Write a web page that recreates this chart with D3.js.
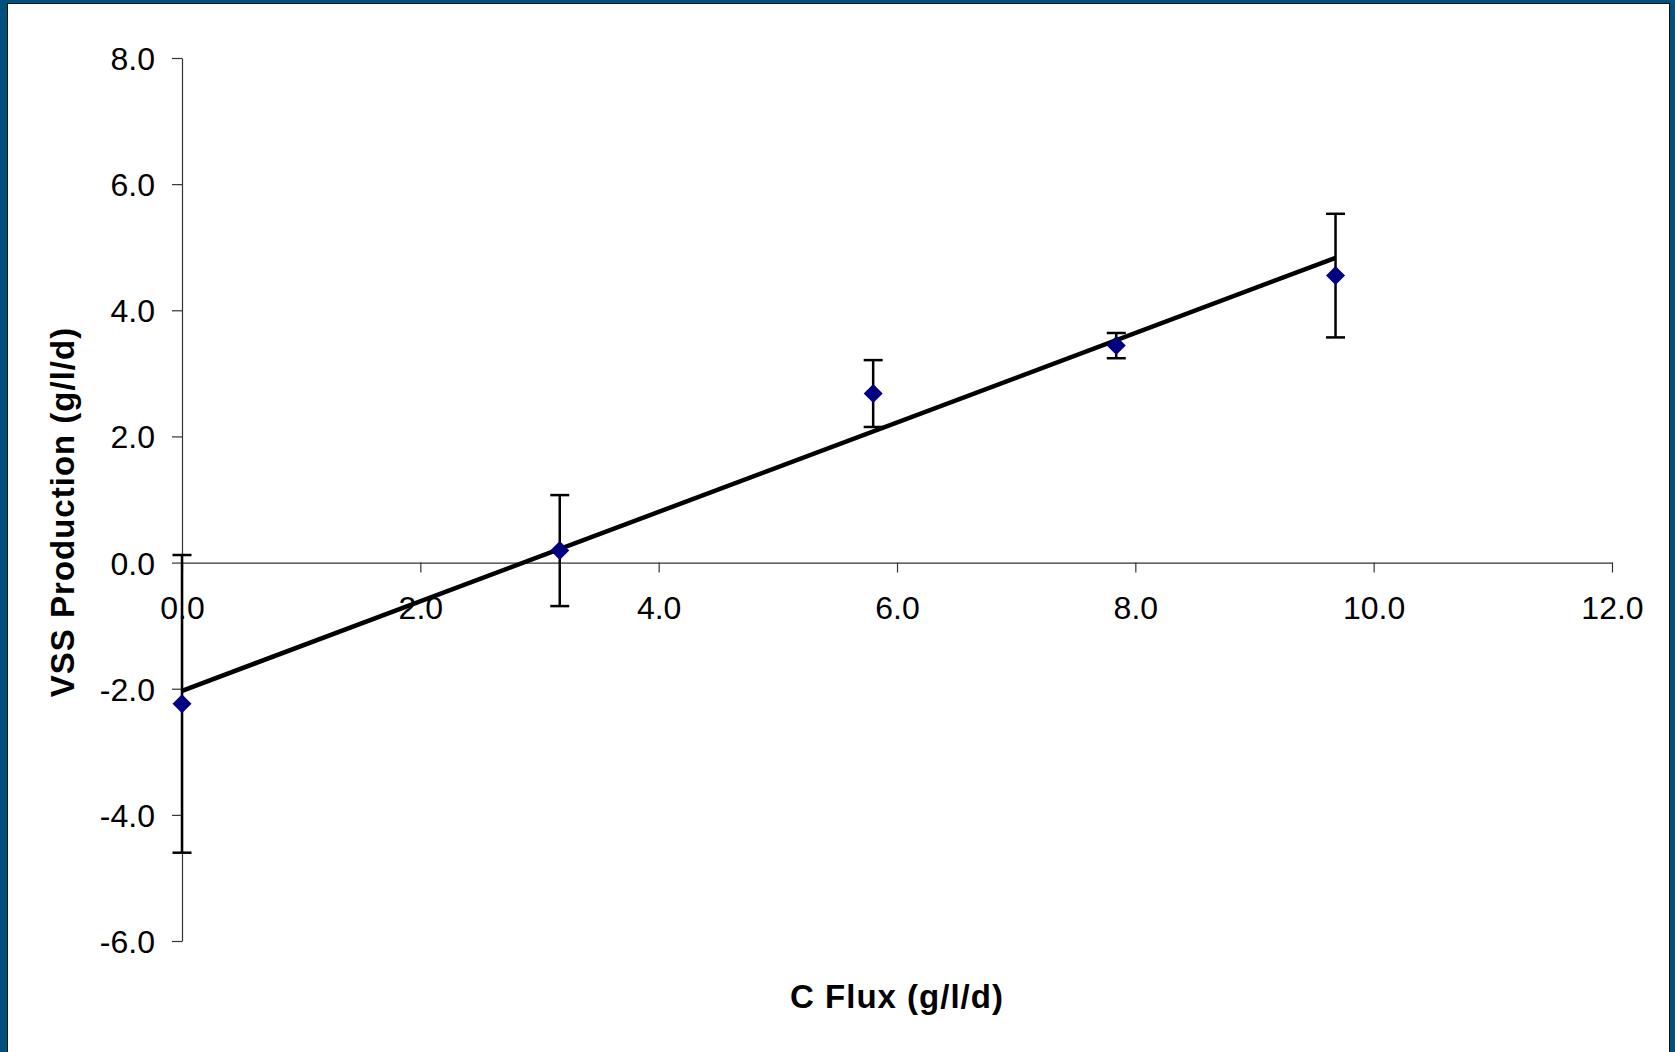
<!DOCTYPE html>
<html>
<head>
<meta charset="utf-8">
<script src="https://cdn.jsdelivr.net/npm/d3@7"></script>
<style>
    body { margin: 0; background: #02507e; }
    svg { display: block; }
    text { font-family: "Liberation Sans", Arial, sans-serif; fill: #000; }
</style>
</head>
<body>
<svg id="drawing_region"></svg>
<script>
// values
const cFlux   = [0.0, 3.17, 5.80, 7.84, 9.68];
const vssProd = [-2.24, 0.19, 2.68, 3.44, 4.55];
const vssErr  = [2.36, 0.88, 0.53, 0.20, 0.98];
const xTicks  = [0, 2, 4, 6, 8, 10, 12];
const yTicks  = [-6, -4, -2, 0, 2, 4, 6, 8];

const data = cFlux.map( (x, i) => ({ x: x, y: vssProd[i], err: vssErr[i] }) );

var config = {
    parent: '#drawing_region',
    width: 1675,
    height: 1052,
    margin: {top:58, right:63, bottom:111, left:182},
    xlabel: 'C Flux (g/l/d)',
    ylabel: 'VSS Production (g/l/d)'
};

const svg = d3.select( config.parent )
    .attr('width', config.width)
    .attr('height', config.height);

// frame
svg.append('rect')
    .attr('x', 0).attr('y', 0)
    .attr('width', config.width).attr('height', config.height)
    .attr('fill', '#02507e');
svg.append('rect')
    .attr('x', 7).attr('y', 3)
    .attr('width', 1663).attr('height', config.height)
    .attr('fill', '#111');
svg.append('rect')
    .attr('x', 8).attr('y', 4)
    .attr('width', 1661).attr('height', config.height)
    .attr('fill', '#fff');

const inner_width = config.width - config.margin.left - config.margin.right;
const inner_height = config.height - config.margin.top - config.margin.bottom;

const chart = svg.append('g')
    .attr('transform', `translate(${config.margin.left}, ${config.margin.top})`);

const xscale = d3.scaleLinear()
    .domain( [0, 12] )
    .range( [0, inner_width] );

const yscale = d3.scaleLinear()
    .domain( [-6, 8] )
    .range( [inner_height, 0] );

// plain hyphen for negatives, like the original
const fmt = v => v.toFixed(1);

// y axis
const yaxis_group = chart.append('g')
    .call( d3.axisLeft( yscale ).tickValues( yTicks ).tickFormat( fmt )
        .tickSize(10).tickSizeOuter(0).tickPadding(17) );

// x axis through zero
const xaxis_group = chart.append('g')
    .attr('transform', `translate(0, ${yscale(0)})`)
    .call( d3.axisBottom( xscale ).tickValues( xTicks ).tickFormat( fmt )
        .tickSize(10).tickSizeOuter(0) );

chart.selectAll('.domain, .tick line')
    .attr('stroke', '#333')
    .attr('stroke-width', 1.2);
chart.selectAll('.tick text')
    .style('font-size', '32px')
    .style('font-family', '"Liberation Sans", Arial, sans-serif')
    .attr('fill', '#000');
yaxis_group.selectAll('.tick text').attr('dy', '0.36em');
xaxis_group.selectAll('.tick text').attr('y', 56).attr('dy', 0);

// error bars
const cap = 9.5;
const bars = chart.selectAll('.err')
    .data( data )
    .enter()
    .append('g')
    .attr('class', 'err')
    .attr('stroke', '#000')
    .attr('stroke-width', 2.5);
bars.append('line')
    .attr('x1', d => xscale(d.x)).attr('x2', d => xscale(d.x))
    .attr('y1', d => yscale(d.y + d.err)).attr('y2', d => yscale(d.y - d.err));
bars.append('line')
    .attr('x1', d => xscale(d.x) - cap).attr('x2', d => xscale(d.x) + cap)
    .attr('y1', d => yscale(d.y + d.err)).attr('y2', d => yscale(d.y + d.err));
bars.append('line')
    .attr('x1', d => xscale(d.x) - cap).attr('x2', d => xscale(d.x) + cap)
    .attr('y1', d => yscale(d.y - d.err)).attr('y2', d => yscale(d.y - d.err));

// linear trend line (least squares)
const mx = d3.mean( cFlux ), my = d3.mean( vssProd );
const sxy = d3.sum( data, d => (d.x - mx) * (d.y - my) );
const sxx = d3.sum( data, d => (d.x - mx) * (d.x - mx) );
const slope = sxy / sxx;
const intercept = my - slope * mx;
const trend = d3.extent( cFlux ).map( x => ({ x: x, y: intercept + slope * x }) );

chart.append('path')
    .datum( trend )
    .attr('fill', 'none')
    .attr('stroke', '#000')
    .attr('stroke-width', 4.5)
    .attr('d', d3.line().x( d => xscale(d.x) ).y( d => yscale(d.y) ));

// diamond markers
chart.selectAll('.pt')
    .data( data )
    .enter()
    .append('path')
    .attr('class', 'pt')
    .attr('transform', d => `translate(${xscale(d.x)}, ${yscale(d.y)})`)
    .attr('d', 'M0,-9.5L9.5,0L0,9.5L-9.5,0Z')
    .attr('fill', '#000080');

// axis labels
svg.append('text')
    .attr('x', config.margin.left + inner_width / 2)
    .attr('y', 1008)
    .attr('text-anchor', 'middle')
    .style('font-size', '33px')
    .style('font-weight', 'bold')
    .style('letter-spacing', '1px')
    .text( config.xlabel );

svg.append('text')
    .attr('transform', `translate(74, 512) rotate(-90)`)
    .attr('text-anchor', 'middle')
    .style('font-size', '33px')
    .style('font-weight', 'bold')
    .style('letter-spacing', '1px')
    .text( config.ylabel );
</script>
</body>
</html>
